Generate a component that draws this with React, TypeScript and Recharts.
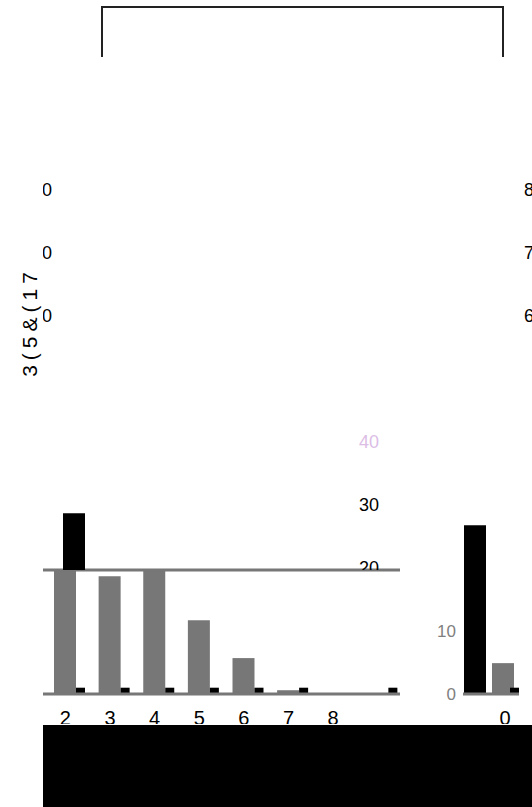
import { Bar, BarChart, Cell, ReferenceLine, XAxis, YAxis } from "recharts";

// main group of bars
const categories = ["2", "3", "4", "5", "6", "7", "8", ""];
const greyValues = [19.7, 18.7, 19.7, 11.7, 5.7, 0.6, 0, 0];
const blackValues = [1, 1, 1, 1, 1, 1, 0, 1];
const upperBlackValues = [28.7, 0, 0, 0, 0, 0, 0, 0];

// right-hand fragment
const rightCategories = ["", "0"];
const rightMainValues = [26.8, 4.9];
const rightMainColors = ["#000000", "#777777"];
const rightBlackValues = [0, 1];

const leftTicks = [60, 70, 80];
const midTicks = [20, 30, 40];
const rightTicks = [0, 10];
const shelfValue = 19.7;
const yLabel = "3(5&(17";

const GREY = "#777777";
const FONT = "'Liberation Sans', Arial, sans-serif";

const mainRows = categories.map((name, i) => ({
  name,
  grey: greyValues[i],
  black: blackValues[i],
  slot: blackValues[i],
  upper: upperBlackValues[i],
}));

const rightRows = rightCategories.map((name, i) => ({
  name,
  main: rightMainValues[i],
  black: rightBlackValues[i],
}));

function makeTick(anchor: "start" | "end", size: number, dx: number, color: (v: number) => string) {
  return function Tick(props: any) {
    const { x, y, payload } = props;
    return (
      <text x={x + dx} y={y} dy="0.355em" textAnchor={anchor} fontSize={size} fill={color(payload.value)}>
        {payload.value}
      </text>
    );
  };
}

const LeftTick = makeTick("end", 18, 9, () => "#000");
const RightTick = makeTick("start", 18, 124, () => "#000");
const MidTick = makeTick("end", 18, 327, (v) => (v === 40 ? "#dcbde6" : "#000"));
const SideTick = makeTick("end", 17, -7, () => "#808080");

const layer: React.CSSProperties = { position: "absolute", left: 0, top: 0 };

export default function App() {
  return (
    <div
      style={{
        position: "absolute",
        left: 0,
        top: 0,
        width: 532,
        height: 807,
        background: "#fff",
        overflow: "hidden",
        fontFamily: FONT,
      }}
    >
      <div style={layer}>
        <BarChart
          width={532}
          height={724}
          data={mainRows}
          margin={{ top: 64, right: 131, bottom: 0, left: 42 }}
          barGap={0}
        >
          <XAxis
            dataKey="name"
            height={30}
            interval={0}
            tickSize={0}
            tickMargin={17}
            axisLine={{ stroke: GREY, strokeWidth: 3 }}
            tick={{ fill: "#000", fontSize: 20 }}
          />
          <YAxis
            yAxisId="left"
            width={1}
            domain={[0, 100]}
            ticks={leftTicks}
            interval={0}
            axisLine={false}
            tickLine={false}
            tickSize={0}
            tickMargin={0}
            tick={<LeftTick />}
          />
          <YAxis
            yAxisId="right"
            orientation="right"
            width={1}
            domain={[0, 100]}
            ticks={leftTicks}
            interval={0}
            axisLine={false}
            tickLine={false}
            tickSize={0}
            tickMargin={0}
            tick={<RightTick />}
          />
          <ReferenceLine yAxisId="left" y={shelfValue} stroke={GREY} strokeWidth={3} />
          {/* empty slot so the grey bar sits on the tick */}
          <Bar yAxisId="left" dataKey="slot" barSize={9} fill="transparent" isAnimationActive={false} />
          <Bar yAxisId="left" dataKey="grey" barSize={22} fill={GREY} isAnimationActive={false} />
          <Bar yAxisId="right" dataKey="black" barSize={9} fill="#000" isAnimationActive={false} />
        </BarChart>
      </div>

      <div style={{ ...layer, width: 532, height: 570, overflow: "hidden" }}>
        <BarChart
          width={532}
          height={724}
          data={mainRows}
          margin={{ top: 64, right: 123, bottom: 0, left: 51 }}
        >
          <XAxis dataKey="name" height={30} tick={false} tickLine={false} axisLine={false} />
          <YAxis
            width={1}
            domain={[0, 100]}
            ticks={midTicks}
            interval={0}
            axisLine={false}
            tickLine={false}
            tickSize={0}
            tickMargin={0}
            tick={<MidTick />}
          />
          <Bar dataKey="upper" barSize={22} fill="#000" isAnimationActive={false} />
        </BarChart>
      </div>

      <div style={layer}>
        <BarChart
          width={532}
          height={724}
          data={rightRows}
          margin={{ top: 64, right: 13, bottom: 0, left: 462 }}
          barGap={-4}
        >
          <XAxis
            dataKey="name"
            height={30}
            interval={0}
            tickSize={0}
            tickMargin={17}
            axisLine={{ stroke: GREY, strokeWidth: 3 }}
            tick={{ fill: "#000", fontSize: 20 }}
          />
          <YAxis
            width={1}
            domain={[0, 100]}
            ticks={rightTicks}
            interval={0}
            axisLine={false}
            tickLine={false}
            tickSize={0}
            tickMargin={0}
            tick={<SideTick />}
          />
          <Bar dataKey="main" barSize={22} isAnimationActive={false}>
            {rightRows.map((r, i) => (
              <Cell key={r.name + i} fill={rightMainColors[i]} />
            ))}
          </Bar>
          <Bar dataKey="black" barSize={9} fill="#000" isAnimationActive={false} />
        </BarChart>
      </div>

      {/* left edge is blank in the reference */}
      <div style={{ position: "absolute", left: 0, top: 150, width: 43, height: 240, background: "#fff" }} />
      <div
        style={{
          position: "absolute",
          left: 29,
          top: 322,
          transform: "translate(-50%, -50%) rotate(-90deg)",
          fontSize: 21,
          letterSpacing: 5,
          whiteSpace: "nowrap",
          color: "#000",
          lineHeight: 1,
        }}
      >
        {yLabel}
      </div>

      <div
        style={{
          position: "absolute",
          left: 101,
          top: 6,
          width: 403,
          height: 51,
          boxSizing: "border-box",
          borderTop: "2px solid #222",
          borderLeft: "2px solid #222",
          borderRight: "2px solid #222",
        }}
      />
      <div style={{ position: "absolute", left: 43, top: 725, width: 489, height: 82, background: "#000" }} />
    </div>
  );
}
